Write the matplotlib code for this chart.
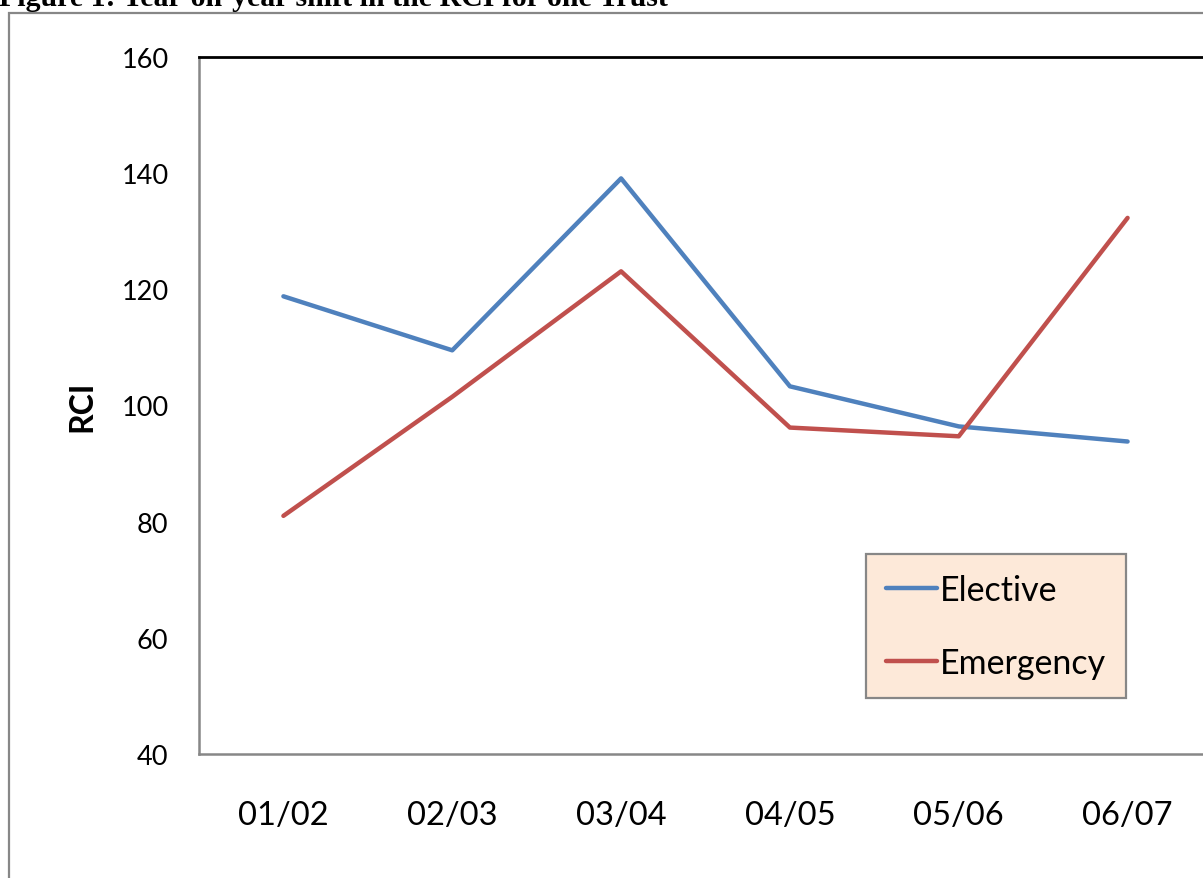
import matplotlib
matplotlib.use("Agg")
import matplotlib.pyplot as plt
from matplotlib.patches import Rectangle

years = ["01/02", "02/03", "03/04", "04/05", "05/06", "06/07"]
elective = [118.8, 109.5, 139.1, 103.3, 96.4, 93.8]
emergency = [81.0, 101.5, 123.1, 96.2, 94.7, 132.3]
y_ticks = [40, 60, 80, 100, 120, 140, 160]

W, H = 1203, 879
fig = plt.figure(figsize=(W / 100, H / 100), dpi=100)
fig.patch.set_facecolor("white")

# outer chart frame
fig.add_artist(Rectangle((9 / W, -0.1), 1.2, 1 - 14 / H + 0.1,
                         transform=fig.transFigure, fill=False,
                         edgecolor="#878787", linewidth=1.6))

fig.text(-0.001, 1 - 6 / H, "Figure 1: Year-on-year shift in the RCI for one Trust",
         family="Liberation Serif", weight="bold", fontsize=21.5,
         va="baseline", ha="left")

left, right = 199 / W, 1212 / W
bottom, top = 1 - 755 / H, 1 - 58 / H
ax = fig.add_axes([left, bottom, right - left, top - bottom])

x = list(range(len(years)))
ax.plot(x, elective, color="#4F81BD", lw=3.2, label="Elective", solid_capstyle="round")
ax.plot(x, emergency, color="#C0504D", lw=3.2, label="Emergency", solid_capstyle="round")

ax.set_xlim(-0.5, len(years) - 0.5)
ax.set_ylim(40, 160)
ax.set_yticks(y_ticks)
ax.set_yticklabels([str(v) for v in y_ticks], family="Lato", fontsize=19.5)
ax.set_xticks(x)
ax.set_xticklabels(years, family="Lato", fontsize=23.5)
ax.tick_params(axis="y", length=0, pad=22)
ax.tick_params(axis="x", length=0, pad=33)

for s in ("left", "bottom"):
    ax.spines[s].set_color("#878787")
    ax.spines[s].set_linewidth(1.8)
ax.spines["top"].set_color("black")
ax.spines["top"].set_linewidth(2.0)
ax.spines["right"].set_visible(False)

ax.set_ylabel("RCI", family="Lato", weight="bold", fontsize=23, labelpad=18)

leg = ax.legend(loc="upper left", bbox_to_anchor=(866 / W, 1 - 555 / H),
                bbox_transform=fig.transFigure, borderaxespad=0,
                prop={"family": "Lato", "size": 24.5}, frameon=True, fancybox=False,
                handlelength=1.5, handletextpad=0.1, labelspacing=1.2,
                borderpad=0.58)
leg.get_frame().set_facecolor("#FDE9D9")
leg.get_frame().set_edgecolor("#878787")
leg.get_frame().set_linewidth(1.6)
leg.get_frame().set_alpha(1)

fig.savefig("out.png", dpi=100)
